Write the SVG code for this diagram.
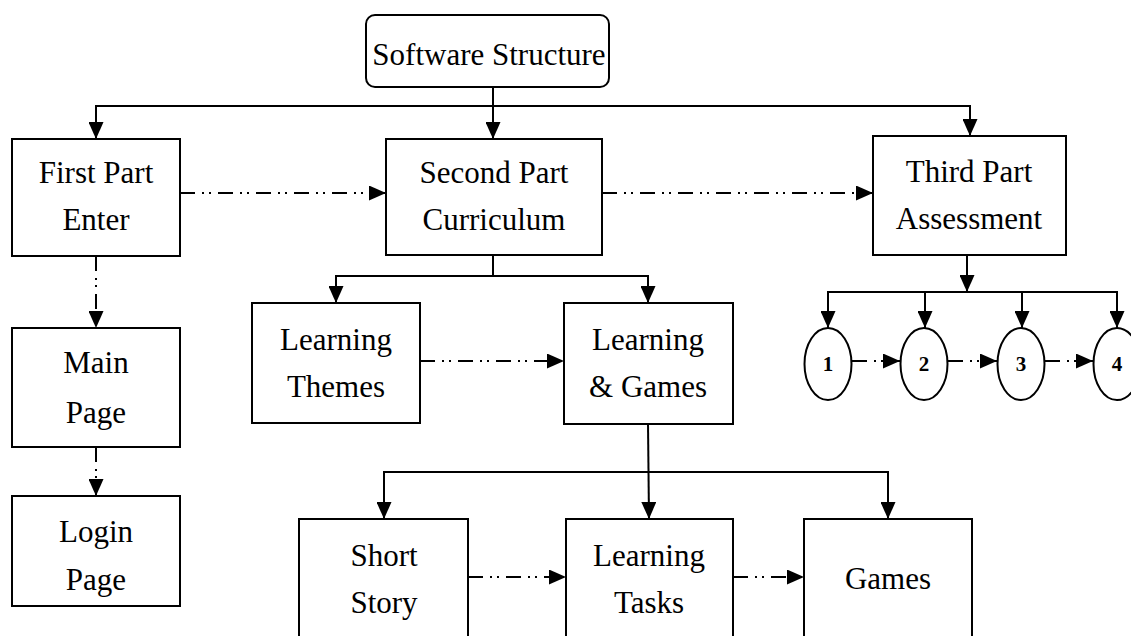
<svg xmlns="http://www.w3.org/2000/svg" width="1131" height="636" viewBox="0 0 1131 636">
<style>
.box{fill:#fff;stroke:#000;stroke-width:2}
.t{font-family:"Liberation Serif","Times New Roman",serif;font-size:31px;fill:#000;text-anchor:middle}
.n{font-family:"Liberation Serif","Times New Roman",serif;font-size:21px;font-weight:bold;fill:#000;text-anchor:middle}
.s{fill:none;stroke:#000;stroke-width:2}
.d{fill:none;stroke:#000;stroke-width:2;stroke-dasharray:15 7 2 5 2 7}
</style>
<defs>
<marker id="ah" markerUnits="userSpaceOnUse" markerWidth="17" markerHeight="15" refX="17" refY="7.5" orient="auto">
<path d="M0,0 L17,7.5 L0,15 z" fill="#000"/>
</marker>
</defs>
<rect width="1131" height="636" fill="#fff"/>
<g id="connectors">
<path class="s" d="M493,87 V139" marker-end="url(#ah)"/>
<path class="s" d="M96,139 V106 H970 V136" marker-end="url(#ah)"/>
<path class="s" d="M96,106 V139" marker-end="url(#ah)"/>
<path class="d" d="M180,193 H386" marker-end="url(#ah)"/>
<path class="d" d="M602,193 H873" marker-end="url(#ah)"/>
<path class="d" d="M96,256 V328" marker-end="url(#ah)"/>
<path class="d" d="M96,447 V496" marker-end="url(#ah)"/>
<path class="s" d="M493,255 V276"/>
<path class="s" d="M336,303 V276 H648 V303" marker-end="url(#ah)"/>
<path class="s" d="M336,276 V303" marker-end="url(#ah)"/>
<path class="d" d="M420,361 H564" marker-end="url(#ah)"/>
<path class="s" d="M967,255 V292" marker-end="url(#ah)"/>
<path class="s" d="M828,328 V292 H1117 V328" marker-end="url(#ah)"/>
<path class="s" d="M828,292 V328" marker-end="url(#ah)"/>
<path class="s" d="M925,292 V328" marker-end="url(#ah)"/>
<path class="s" d="M1022,292 V328" marker-end="url(#ah)"/>
<path class="d" d="M852,361 H900" marker-end="url(#ah)"/>
<path class="d" d="M948,361 H997" marker-end="url(#ah)"/>
<path class="d" d="M1045,361 H1093" marker-end="url(#ah)"/>
<path class="s" d="M648,423 L649,519" marker-end="url(#ah)"/>
<path class="s" d="M384,519 V472 H888 V519" marker-end="url(#ah)"/>
<path class="s" d="M384,472 V519" marker-end="url(#ah)"/>
<path class="d" d="M468,577 H566" marker-end="url(#ah)"/>
<path class="d" d="M733,577 H804" marker-end="url(#ah)"/>
</g>
<g id="software-structure">
<rect class="box" x="366" y="15" width="243" height="72" rx="9"/>
<text class="t" x="489" y="65">Software Structure</text>
</g>
<g id="first-part">
<rect class="box" x="12" y="139" width="168" height="117"/>
<text class="t" x="96" y="183">First Part</text>
<text class="t" x="96" y="230">Enter</text>
</g>
<g id="second-part">
<rect class="box" x="386" y="139" width="216" height="116"/>
<text class="t" x="494" y="183">Second Part</text>
<text class="t" x="494" y="230">Curriculum</text>
</g>
<g id="third-part">
<rect class="box" x="873" y="136" width="193" height="119"/>
<text class="t" x="969" y="182">Third Part</text>
<text class="t" x="969" y="229">Assessment</text>
</g>
<g id="main-page">
<rect class="box" x="12" y="328" width="168" height="119"/>
<text class="t" x="96" y="373">Main</text>
<text class="t" x="96" y="423">Page</text>
</g>
<g id="login-page">
<rect class="box" x="12" y="496" width="168" height="110"/>
<text class="t" x="96" y="542">Login</text>
<text class="t" x="96" y="590">Page</text>
</g>
<g id="learning-themes">
<rect class="box" x="252" y="303" width="168" height="120"/>
<text class="t" x="336" y="350">Learning</text>
<text class="t" x="336" y="397">Themes</text>
</g>
<g id="learning-games">
<rect class="box" x="564" y="303" width="169" height="121"/>
<text class="t" x="648" y="350">Learning</text>
<text class="t" x="648" y="397">&amp; Games</text>
</g>
<g id="a1">
<ellipse class="box" cx="828" cy="364" rx="23.5" ry="36"/>
<text class="n" x="828" y="371">1</text>
</g>
<g id="a2">
<ellipse class="box" cx="924" cy="364" rx="23.5" ry="36"/>
<text class="n" x="924" y="371">2</text>
</g>
<g id="a3">
<ellipse class="box" cx="1021" cy="364" rx="23.5" ry="36"/>
<text class="n" x="1021" y="371">3</text>
</g>
<g id="a4">
<ellipse class="box" cx="1117" cy="364" rx="23.5" ry="36"/>
<text class="n" x="1117" y="371">4</text>
</g>
<g id="short-story">
<rect class="box" x="299" y="519" width="169" height="130"/>
<text class="t" x="384" y="566">Short</text>
<text class="t" x="384" y="613">Story</text>
</g>
<g id="learning-tasks">
<rect class="box" x="566" y="519" width="167" height="130"/>
<text class="t" x="649" y="566">Learning</text>
<text class="t" x="649" y="613">Tasks</text>
</g>
<g id="games">
<rect class="box" x="804" y="519" width="168" height="130"/>
<text class="t" x="888" y="589">Games</text>
</g>
</svg>
